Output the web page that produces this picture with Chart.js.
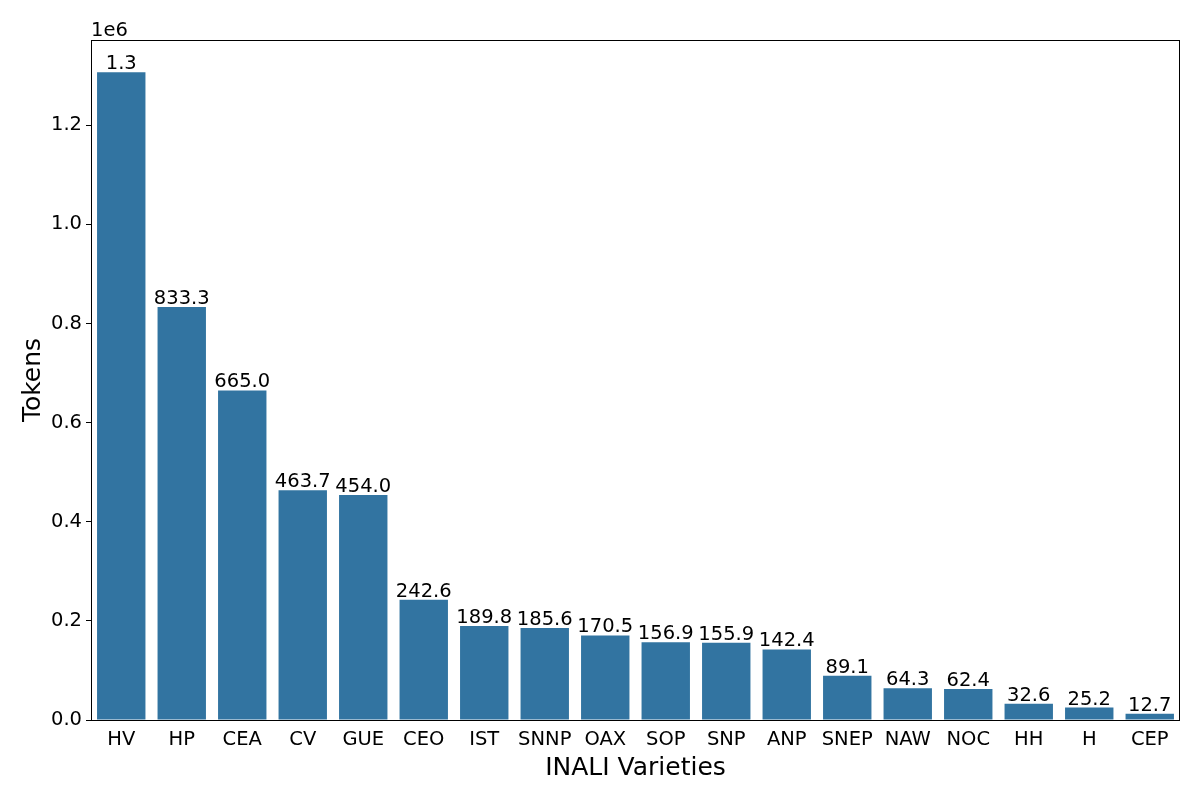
<!DOCTYPE html>
<html>
<head>
<meta charset="utf-8">
<script src="https://cdn.jsdelivr.net/npm/chart.js@4.4.0/dist/chart.umd.min.js"></script>
<style>
  html, body { margin: 0; padding: 0; background: #fff; }
  #wrap { width: 1200px; height: 800px; }
</style>
</head>
<body>
<div id="wrap"><canvas id="chart"></canvas></div>
<script>
// INALI varieties and token counts
const varieties = ["HV", "HP", "CEA", "CV", "GUE", "CEO", "IST", "SNNP", "OAX", "SOP", "SNP", "ANP", "SNEP", "NAW", "NOC", "HH", "H", "CEP"];
const tokens = [1307000, 833300, 665000, 463700, 454000, 242600, 189800, 185600, 170500, 156900, 155900, 142400, 89100, 64300, 62400, 32600, 25200, 12700];
const yTicks = [0, 200000, 400000, 600000, 800000, 1000000, 1200000];

const FONT = "'DejaVu Sans', sans-serif";

function barLabel(v) {
  return v >= 1e6 ? (v / 1e6).toFixed(1) : (v / 1e3).toFixed(1);
}

// value labels above bars, frame and offset text
const extras = {
  id: "extras",
  afterDatasetsDraw(chart) {
    const ctx = chart.ctx;
    const area = chart.chartArea;
    const meta = chart.getDatasetMeta(0);
    ctx.save();
    ctx.fillStyle = "#000";
    ctx.font = "19.5px " + FONT;
    ctx.textAlign = "center";
    ctx.textBaseline = "alphabetic";
    meta.data.forEach((bar, i) => {
      ctx.fillText(barLabel(tokens[i]), bar.x, bar.y - 3);
    });

    ctx.strokeStyle = "#000";
    ctx.lineWidth = 1;
    ctx.strokeRect(area.left + 0.5, area.top + 0.5, area.right - area.left - 1, area.bottom - area.top);

    ctx.textAlign = "left";
    ctx.fillText("1e6", area.left, area.top - 4);
    ctx.restore();
  }
};

new Chart(document.getElementById("chart"), {
  type: "bar",
  data: {
    labels: varieties,
    datasets: [{
      data: tokens,
      backgroundColor: "#3274a1",
      borderWidth: 0,
      barPercentage: 0.8,
      categoryPercentage: 1.0
    }]
  },
  options: {
    responsive: true,
    maintainAspectRatio: false,
    animation: false,
    layout: { padding: { top: 40, right: 20, left: 0, bottom: 0 } },
    plugins: { legend: { display: false }, tooltip: { enabled: false } },
    scales: {
      x: {
        grid: { display: false, drawOnChartArea: false, tickLength: 5, color: "#000" },
        border: { display: false },
        ticks: { color: "#000", font: { family: FONT, size: 19.5 }, padding: 3, maxRotation: 0, autoSkip: false },
        title: { display: true, text: "INALI Varieties", color: "#000", font: { family: FONT, size: 25 }, padding: { top: 4, bottom: 17 } },
        afterFit(scale) { scale.height = 80; }
      },
      y: {
        min: 0,
        max: 1372000,
        afterBuildTicks(scale) { scale.ticks = yTicks.map(v => ({ value: v })); },
        grid: { drawOnChartArea: false, drawTicks: true, tickLength: 5, color: "#000" },
        border: { display: false },
        ticks: {
          color: "#000",
          font: { family: FONT, size: 19.5 },
          padding: 4,
          callback: v => (v / 1e6).toFixed(1)
        },
        title: { display: true, text: "Tokens", color: "#000", font: { family: FONT, size: 25 }, padding: { top: 18, bottom: 0 } },
        afterFit(scale) { scale.width = 91; }
      }
    }
  },
  plugins: [extras]
});
</script>
</body>
</html>
